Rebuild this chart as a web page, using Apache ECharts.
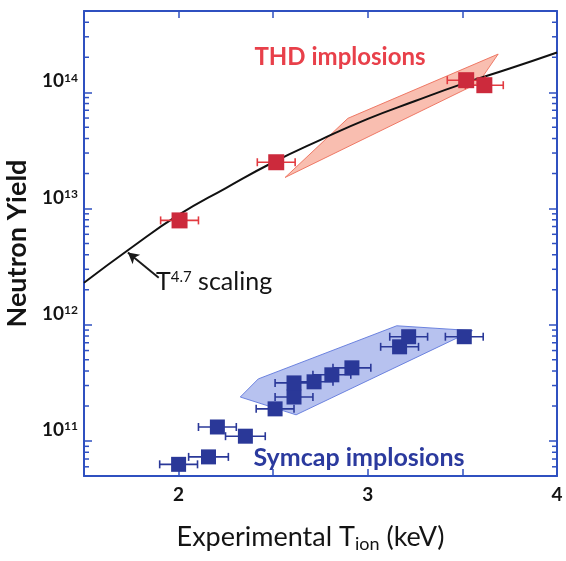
<!DOCTYPE html>
<html>
<head>
<meta charset="utf-8">
<script src="https://cdn.jsdelivr.net/npm/echarts@6/dist/echarts.min.js"></script>
<style>
html,body{margin:0;padding:0;background:#fff;}
#chart{width:566px;height:561px;}
</style>
</head>
<body>
<div id="chart"></div>
<script>
// ---- data ----
var xTickLabels = ['2', '3', '4'];
var yTickExponents = [11, 12, 13, 14];

// T^4.7 scaling curve
var curveT     = [1.5, 1.75, 2.0, 2.25, 2.5, 2.75, 3.0, 3.25, 3.5, 3.75, 4.0];
var curveYield = [2.3e12, 4.6e12, 8.8e12, 1.5e13, 2.5e13, 3.9e13, 5.9e13, 8.4e13, 1.18e14, 1.6e14, 2.2e14];

// THD implosions (red)
var thdT     = [2.005, 2.516, 3.52, 3.616];
var thdYield = [7.9e12, 2.5e13, 1.27e14, 1.15e14];
var thdErr   = [0.1, 0.1, 0.1, 0.1];

// Symcap implosions (blue)
var symT     = [2.0, 2.158, 2.205, 2.353, 2.51, 2.61, 2.61, 2.716, 2.81, 2.916, 3.168, 3.216, 3.51];
var symYield = [6.3e10, 7.3e10, 1.32e11, 1.10e11, 1.89e11, 2.39e11, 3.16e11, 3.23e11, 3.71e11, 4.26e11, 6.46e11, 7.89e11, 7.89e11];
var symErr   = [0.1, 0.105, 0.1, 0.105, 0.1, 0.1, 0.1, 0.1, 0.1, 0.1, 0.1, 0.1, 0.1];

// shaded regions (polygon vertices)
var thdBandT     = [2.563, 2.895, 3.689, 3.584];
var thdBandYield = [1.85e13, 5.97e13, 2.13e14, 1.2e14];
var symBandT     = [2.326, 2.421, 3.153, 3.553, 2.621];
var symBandYield = [2.39e11, 3.42e11, 9.8e11, 8.9e11, 1.68e11];

// annotation arrow (tail -> tip)
var arrowT     = [1.895, 1.732];
var arrowYield = [2.54e12, 4.18e12];

// axis ranges
var xMin = 1.5, xMax = 4, xInterval = 0.5;
var yMin = 5e10, yMax = 5e14;
var minorMultipliers = [2, 3, 4, 5, 6, 7, 8, 9];
var decades = [1e10, 1e11, 1e12, 1e13, 1e14];

// ---- build ----
var FONT = 'Lato, "Open Sans", sans-serif';
var BLUE_FRAME = '#2f50c0';
var RED_SQ = '#cc2a3c', RED_ERR = '#e23a40';
var BLUE_SQ = '#2a3898';
var INK = '#141414';

function zip(a, b, c) {
  return a.map(function (v, i) { return c ? [v, b[i], c[i]] : [v, b[i]]; });
}

var minorTicks = [];
decades.forEach(function (d) {
  minorMultipliers.forEach(function (m) {
    var v = d * m;
    if (v > yMin && v < yMax) minorTicks.push([xMin, v]);
  });
});

function yLabel(v) {
  var e = Math.log10(v);
  var r = Math.round(e);
  if (Math.abs(e - r) > 1e-6 || yTickExponents.indexOf(r) < 0) return '';
  return '{b|10}{s|' + r + '}';
}
function xLabel(v) {
  var s = String(Math.round(v * 1000) / 1000);
  return xTickLabels.indexOf(s) >= 0 ? s : '';
}

function polyRender(tArr, yArr, fill, stroke) {
  return function (params, api) {
    if (params.dataIndex !== 0) return;
    var pts = tArr.map(function (t, i) { return api.coord([t, yArr[i]]); });
    return {
      type: 'polygon',
      shape: { points: pts },
      style: { fill: fill, stroke: stroke, lineWidth: 1 }
    };
  };
}

function errRender(color) {
  return function (params, api) {
    var x = api.value(0), y = api.value(1), e = api.value(2);
    var p1 = api.coord([x - e, y]);
    var p2 = api.coord([x + e, y]);
    var cap = 4;
    var st = { stroke: color, lineWidth: 1.6 };
    return {
      type: 'group',
      children: [
        { type: 'line', shape: { x1: p1[0], y1: p1[1], x2: p2[0], y2: p2[1] }, style: st },
        { type: 'line', shape: { x1: p1[0], y1: p1[1] - cap, x2: p1[0], y2: p1[1] + cap }, style: st },
        { type: 'line', shape: { x1: p2[0], y1: p2[1] - cap, x2: p2[0], y2: p2[1] + cap }, style: st }
      ]
    };
  };
}

function minorRender(params, api) {
  var p = api.coord([api.value(0), api.value(1)]);
  var cs = params.coordSys;
  var L = 5;
  var st = { stroke: BLUE_FRAME, lineWidth: 1.5 };
  return {
    type: 'group',
    children: [
      { type: 'line', shape: { x1: cs.x, y1: p[1], x2: cs.x + L, y2: p[1] }, style: st },
      { type: 'line', shape: { x1: cs.x + cs.width, y1: p[1], x2: cs.x + cs.width - L, y2: p[1] }, style: st }
    ]
  };
}

var axisLineStyle = { show: true, onZero: false, lineStyle: { color: BLUE_FRAME, width: 2 } };
var tickStyle = { show: true, inside: true, length: 7, lineStyle: { color: BLUE_FRAME, width: 1.5 } };

var option = {
  animation: false,
  backgroundColor: '#fff',
  grid: { left: 84, right: 9, top: 11, bottom: 85, containLabel: false, outerBoundsMode: 'none' },
  xAxis: [{
    type: 'value', min: xMin, max: xMax, interval: xInterval, position: 'bottom',
    axisLine: axisLineStyle, axisTick: tickStyle, splitLine: { show: false },
    axisLabel: { formatter: xLabel, fontFamily: FONT, fontSize: 19, fontWeight: 'bold', color: INK, margin: 9, showMaxLabel: true, showMinLabel: true },
    name: '{a|Experimental T}{sub|ion}{a| (keV)}',
    nameLocation: 'middle', nameGap: 46,
    nameTextStyle: {
      padding: [0, 20, 0, 0],
      rich: {
        a: { fontFamily: FONT, fontSize: 27, color: INK },
        sub: { fontFamily: FONT, fontSize: 18, color: INK, verticalAlign: 'bottom', padding: [13, 0, 0, 0] }
      }
    }
  }, {
    type: 'value', min: xMin, max: xMax, interval: xInterval, position: 'top',
    axisLine: axisLineStyle, axisTick: tickStyle, splitLine: { show: false },
    axisLabel: { show: false }
  }],
  yAxis: [{
    type: 'log', logBase: 10, min: yMin, max: yMax, position: 'left',
    axisLine: axisLineStyle, axisTick: { show: true, inside: true, length: 8, lineStyle: { color: BLUE_FRAME, width: 1.5 } },
    splitLine: { show: false }, minorTick: { show: false },
    axisLabel: {
      formatter: yLabel, margin: 6, showMinLabel: true, showMaxLabel: true,
      verticalAlign: 'middle', padding: [0, 0, 22, 0],
      rich: {
        b: { fontFamily: FONT, fontSize: 19, fontWeight: 'bold', color: INK },
        s: { fontFamily: FONT, fontSize: 12, fontWeight: 'bold', color: INK, verticalAlign: 'top', padding: [0, 0, 7, 0] }
      }
    },
    name: 'Neutron Yield', nameLocation: 'middle', nameGap: 46,
    nameTextStyle: { fontFamily: FONT, fontSize: 27, fontWeight: 'bold', color: INK }
  }, {
    type: 'log', logBase: 10, min: yMin, max: yMax, position: 'right',
    axisLine: axisLineStyle, axisTick: { show: true, inside: true, length: 8, lineStyle: { color: BLUE_FRAME, width: 1.5 } },
    splitLine: { show: false }, axisLabel: { show: false }
  }],
  series: [
    { type: 'custom', name: 'minorTicks', data: minorTicks, renderItem: minorRender, silent: true, z: 10 },
    { type: 'custom', name: 'thdBand', data: [[thdBandT[0], thdBandYield[0]]],
      renderItem: polyRender(thdBandT, thdBandYield, 'rgba(246,150,128,0.62)', 'rgba(236,110,90,0.9)'), z: 1, silent: true },
    { type: 'custom', name: 'symBand', data: [[symBandT[0], symBandYield[0]]],
      renderItem: polyRender(symBandT, symBandYield, 'rgba(135,153,228,0.6)', 'rgba(95,120,220,0.9)'), z: 1, silent: true },
    { type: 'line', name: 'T^4.7 scaling', data: zip(curveT, curveYield), smooth: true, showSymbol: false,
      lineStyle: { color: '#111', width: 2 }, z: 3, silent: true,
      markLine: {
        silent: true, symbol: ['none', 'arrow'], symbolSize: [9, 11],
        label: { show: false },
        lineStyle: { color: '#1a1a1a', width: 2, type: 'solid' },
        data: [[{ coord: [arrowT[0], arrowYield[0]] }, { coord: [arrowT[1], arrowYield[1]] }]]
      }
    },
    { type: 'custom', name: 'thdErr', data: zip(thdT, thdYield, thdErr), renderItem: errRender(RED_ERR), z: 4, silent: true },
    { type: 'custom', name: 'symErr', data: zip(symT, symYield, symErr), renderItem: errRender(BLUE_SQ), z: 4, silent: true },
    { type: 'scatter', name: 'THD implosions', data: zip(thdT, thdYield), symbol: 'rect', symbolSize: 16,
      itemStyle: { color: RED_SQ, opacity: 1 }, z: 5 },
    { type: 'scatter', name: 'Symcap implosions', data: zip(symT, symYield), symbol: 'rect', symbolSize: 15,
      itemStyle: { color: BLUE_SQ, opacity: 1 }, z: 5 }
  ],
  graphic: [
    { type: 'text', z: 20, style: { text: 'THD implosions', x: 340, y: 57, align: 'center', verticalAlign: 'middle',
      font: 'bold 24px ' + FONT, fill: '#e8404a' } },
    { type: 'text', z: 20, style: { text: 'Symcap implosions', x: 359, y: 458, align: 'center', verticalAlign: 'middle',
      font: 'bold 25px ' + FONT, fill: '#2b3a9e' } },
    { type: 'text', z: 20, style: { text: '{t|T}{s|4.7}{t| scaling}', x: 156, y: 282, align: 'left', verticalAlign: 'middle',
      rich: { t: { fontFamily: FONT, fontSize: 25, fill: INK },
              s: { fontFamily: FONT, fontSize: 15, fill: INK, verticalAlign: 'top', padding: [0, 0, 9, 0] } } } }
  ]
};

var chart = echarts.init(document.getElementById('chart'), null, { renderer: 'canvas' });
chart.setOption(option);
</script>
</body>
</html>
